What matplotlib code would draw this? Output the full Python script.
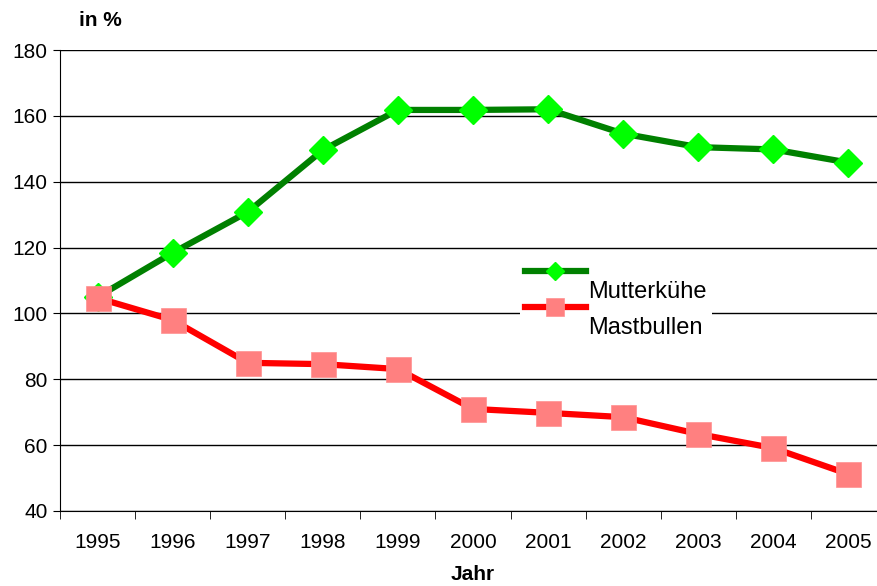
import matplotlib.pyplot as plt
import numpy as np
from matplotlib.legend_handler import HandlerLine2D

plt.rcParams['font.family'] = ['Liberation Sans', 'DejaVu Sans']

years = ['1995', '1996', '1997', '1998', '1999', '2000', '2001', '2002', '2003', '2004', '2005']
mutterkuehe = [105, 118.4, 130.8, 149.6, 161.8, 161.8, 162.0, 154.6, 150.5, 149.8, 145.8]
mastbullen = [104.7, 98.0, 85.0, 84.6, 83.1, 71.0, 69.8, 68.5, 63.4, 59.1, 51.2]


class RaisedLine(HandlerLine2D):
    # excel style: sample sits above the label
    def create_artists(self, legend, orig_handle, xdescent, ydescent,
                       width, height, fontsize, trans):
        return super().create_artists(legend, orig_handle, xdescent, ydescent - 27,
                                      width, height, fontsize, trans)


fig = plt.figure(figsize=(8.77, 5.86), dpi=100)
ax = fig.add_axes([60/877, 1 - 511/586, 826/877, 461/586])

x = np.arange(len(years))
ax.plot(x, mutterkuehe, color='#008000', lw=4.5, marker='D', ms=14,
        mfc='#00FF00', mec='#00FF00', label='Mutterkühe', zorder=3)
ax.plot(x, mastbullen, color='#FF0000', lw=4.5, marker='s', ms=18,
        mfc='#FF8080', mec='#FF9090', mew=0.5, label='Mastbullen', zorder=3)

ax.set_xlim(-0.5, len(years) - 0.5)
ax.set_ylim(40, 180)
ax.set_yticks(np.arange(40, 181, 20))
ax.grid(axis='y', color='black', lw=1)
ax.set_axisbelow(True)
ax.set_xticks(x)
ax.set_xticklabels(years)
ax.set_xticks(np.arange(-0.5, len(years), 1), minor=True)
ax.tick_params(axis='x', which='major', length=0, pad=16, labelsize=15)
ax.tick_params(axis='x', which='minor', length=6, direction='out')
ax.tick_params(axis='y', length=5, labelsize=15, pad=4)
ax.spines['top'].set_visible(False)
ax.spines['right'].set_visible(False)

ax.set_xlabel('Jahr', fontsize=15, fontweight='bold', labelpad=9)
fig.text(100/877, 1 - 20/586, 'in %', fontsize=15, fontweight='bold',
         ha='center', va='center')

leg = ax.legend(loc='upper left', bbox_to_anchor=(448/826, (511 - 264)/461),
                frameon=True, fancybox=False, edgecolor='none', framealpha=1,
                fontsize=17, handlelength=2.6, handletextpad=0.1,
                labelspacing=0.6, borderpad=0.2,
                handler_map={plt.Line2D: RaisedLine(numpoints=1)})
leg.legend_handles[0].set_markersize(9)
leg.legend_handles[1].set_markersize(12.5)

fig.savefig('out.png', dpi=100)
